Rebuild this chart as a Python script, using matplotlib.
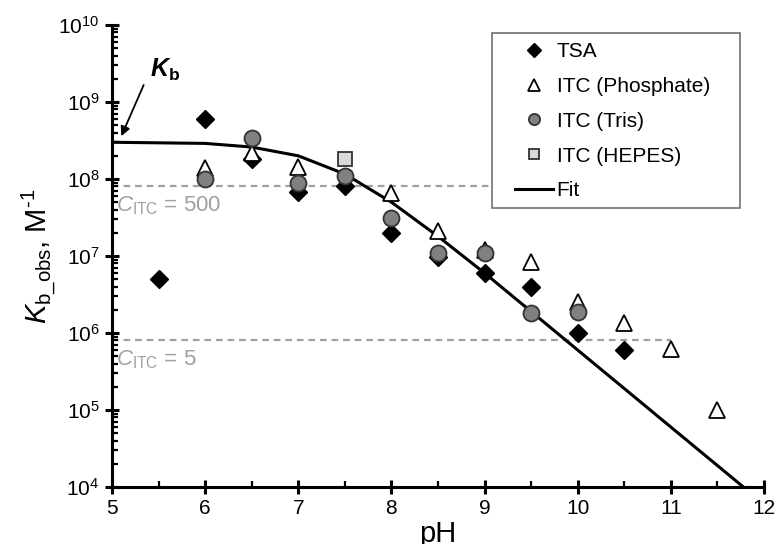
import matplotlib.pyplot as plt
from matplotlib.patches import Rectangle
from matplotlib.ticker import LogLocator, MultipleLocator, NullFormatter

plt.rcParams.update({
    "font.family": ["Liberation Sans", "DejaVu Sans"],
    "mathtext.fontset": "custom",
    "mathtext.rm": "Liberation Sans",
    "mathtext.it": "Liberation Sans:italic",
    "mathtext.bf": "Liberation Sans:bold",
    "mathtext.bfit": "Liberation Sans:italic:bold",
})

# TSA
tsa_ph = [5.5, 6, 6.5, 7, 7.5, 8, 8.5, 9, 9.5, 10, 10.5]
tsa_k = [5.0e6, 6.0e8, 1.8e8, 6.8e7, 8.2e7, 2.0e7, 9.6e6, 6.0e6, 4.0e6, 1.0e6, 6.0e5]

# ITC (Phosphate)
phos_ph = [6, 6.5, 7, 8, 8.5, 9, 9.5, 10, 10.5, 11, 11.5]
phos_k = [1.4e8, 2.2e8, 1.45e8, 6.6e7, 2.1e7, 1.2e7, 8.4e6, 2.5e6, 1.35e6, 6.2e5, 1.0e5]

# ITC (Tris)
tris_ph = [6, 6.5, 7, 7.5, 8, 8.5, 9, 9.5, 10]
tris_k = [1.0e8, 3.4e8, 8.9e7, 1.1e8, 3.1e7, 1.1e7, 1.1e7, 1.8e6, 1.9e6]

# ITC (HEPES)
hepes_ph = [7.5]
hepes_k = [1.8e8]

# Fit curve (as drawn, sampled points)
fit_ph = [5, 6, 6.5, 7, 7.5, 8, 8.5, 9, 9.5, 10, 10.5, 11, 11.5, 12]
fit_k = [3.0e8, 2.9e8, 2.6e8, 2.0e8, 1.16e8, 5.0e7, 1.8e7, 6.0e6, 1.9e6,
         6.0e5, 1.9e5, 6.0e4, 1.9e4, 6.0e3]

# C_ITC limits
citc_ph = [5, 11]
citc_500 = 8.2e7
citc_5 = 8.2e5

# axes box in figure pixels
AX_L, AX_R, AX_T, AX_B = 112, 764, 25, 487


def px_to_axes(x, y):
    return (x - AX_L) / (AX_R - AX_L), (AX_B - y) / (AX_B - AX_T)


def main():
    fig = plt.figure(figsize=(7.79, 5.44), dpi=100)
    ax = fig.add_axes([AX_L / 779, 1 - AX_B / 544, (AX_R - AX_L) / 779, (AX_B - AX_T) / 544])

    gray = "#a0a0a0"
    ax.plot(citc_ph, [citc_500] * 2, ls=(0, (3, 2.2)), color=gray, lw=1.6, zorder=1)
    ax.plot(citc_ph, [citc_5] * 2, ls=(0, (3, 2.2)), color=gray, lw=1.6, zorder=1)

    ax.plot(fit_ph, fit_k, color="black", lw=2.2, zorder=2, label="Fit")
    ax.plot(tsa_ph, tsa_k, ls="none", marker="D", ms=9.5, mfc="black", mec="black",
            zorder=3, label="TSA")
    ax.plot(phos_ph, phos_k, ls="none", marker="^", ms=12, mfc="white", mec="black",
            mew=1.3, zorder=4, label="ITC (Phosphate)")
    ax.plot(tris_ph, tris_k, ls="none", marker="o", ms=11.5, mfc="#808080", mec="#333333",
            mew=1.3, zorder=5, label="ITC (Tris)")
    ax.plot(hepes_ph, hepes_k, ls="none", marker="s", ms=9.5, mfc="#d9d9d9", mec="#333333",
            mew=1.3, zorder=6, label="ITC (HEPES)")

    ax.set_yscale("log")
    ax.set_xlim(5, 12)
    ax.set_ylim(1e4, 1e10)
    ax.xaxis.set_major_locator(MultipleLocator(1))
    ax.xaxis.set_minor_locator(MultipleLocator(0.5))
    ax.yaxis.set_major_locator(LogLocator(base=10, numticks=20))
    ax.yaxis.set_minor_locator(LogLocator(base=10, subs=range(2, 10), numticks=20))
    ax.yaxis.set_minor_formatter(NullFormatter())

    for side in ["top", "right"]:
        ax.spines[side].set_visible(False)
    for side in ["left", "bottom"]:
        ax.spines[side].set_linewidth(2.2)
    ax.tick_params(which="major", direction="inout", length=10, width=2.2,
                   labelsize=15, pad=4)
    ax.tick_params(which="minor", direction="in", length=4, width=1.6)

    ax.set_xlabel("pH", fontsize=21, labelpad=1)
    ax.set_ylabel(r"$\mathit{K}_{\mathrm{b\_obs}}$, M$^{\text{-1}}$", fontsize=21, labelpad=0)

    ax.text(5.04, citc_500 * 0.55, r"$\mathit{C}_{\mathrm{ITC}}$ = 500", color=gray,
            fontsize=16, ha="left", va="center")
    ax.text(5.04, citc_5 * 0.55, r"$\mathit{C}_{\mathrm{ITC}}$ = 5", color=gray,
            fontsize=16, ha="left", va="center")

    ax.text(5.41, 2.6e9, r"$\mathbfit{K}_{\mathbf{b}}$", fontsize=18, ha="left", va="center")
    ax.annotate("", xy=(5.1, 3.6e8), xytext=(5.34, 1.66e9),
                arrowprops=dict(arrowstyle="-|>", color="black", lw=1.3,
                                mutation_scale=14, shrinkA=0, shrinkB=0))

    # legend: frame drawn by hand so the side padding can be wider than the top one
    x0, y0 = px_to_axes(492, 33)
    x1, y1 = px_to_axes(740, 208)
    ax.add_patch(Rectangle((x0, y1), x1 - x0, y0 - y1, transform=ax.transAxes,
                           facecolor="white", edgecolor="#707070", lw=1.2, zorder=9))
    handles, labels = ax.get_legend_handles_labels()
    order = [1, 2, 3, 4, 0]
    lx, ly = px_to_axes(515, 42)
    leg = ax.legend([handles[i] for i in order], [labels[i] for i in order],
                    loc="upper left", bbox_to_anchor=(lx, ly),
                    fontsize=15, frameon=False, borderpad=0, labelspacing=0.76,
                    handlelength=1.8, handletextpad=0.2, borderaxespad=0,
                    markerscale=0.7)
    leg.set_zorder(10)

    fig.savefig("out.png", dpi=100, facecolor="white")


if __name__ == "__main__":
    main()
